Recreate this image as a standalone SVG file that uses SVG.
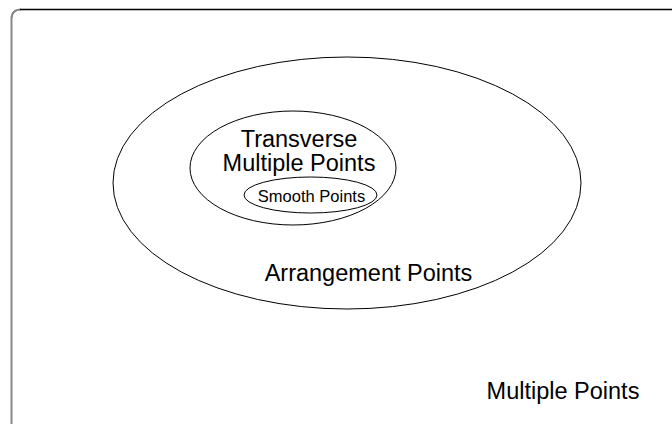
<svg xmlns="http://www.w3.org/2000/svg" width="672" height="424" viewBox="0 0 672 424">
<style>
.sh{fill:none;stroke:#000;stroke-width:1}
.t{font-family:"Liberation Sans",Arial,sans-serif;fill:#000;text-anchor:middle}
.big{font-size:23.5px}
</style>
<rect width="672" height="424" fill="#fff"/>
<g id="frame">
<path d="M11.5,424 V19 Q11.5,9.5 21,9.5" fill="none" stroke="#888" stroke-width="2"/>
<path d="M20,9.5 H672" fill="none" stroke="#000" stroke-width="1.3"/>
</g>
<g id="multiple-points">
<text class="t big" x="563" y="399">Multiple Points</text>
</g>
<g id="arrangement-points">
<ellipse class="sh" cx="347" cy="183" rx="234" ry="126"/>
<text class="t big" x="368.5" y="281">Arrangement Points</text>
</g>
<g id="transverse-multiple-points">
<ellipse class="sh" cx="293" cy="168" rx="103" ry="57"/>
<text class="t big" x="299" y="147">Transverse</text>
<text class="t big" x="299" y="171">Multiple Points</text>
</g>
<g id="smooth-points">
<ellipse class="sh" cx="310.5" cy="195" rx="66.5" ry="18"/>
<text class="t" x="311.5" y="202" font-size="16.5">Smooth Points</text>
</g>
<g id="connectors"></g>
</svg>
